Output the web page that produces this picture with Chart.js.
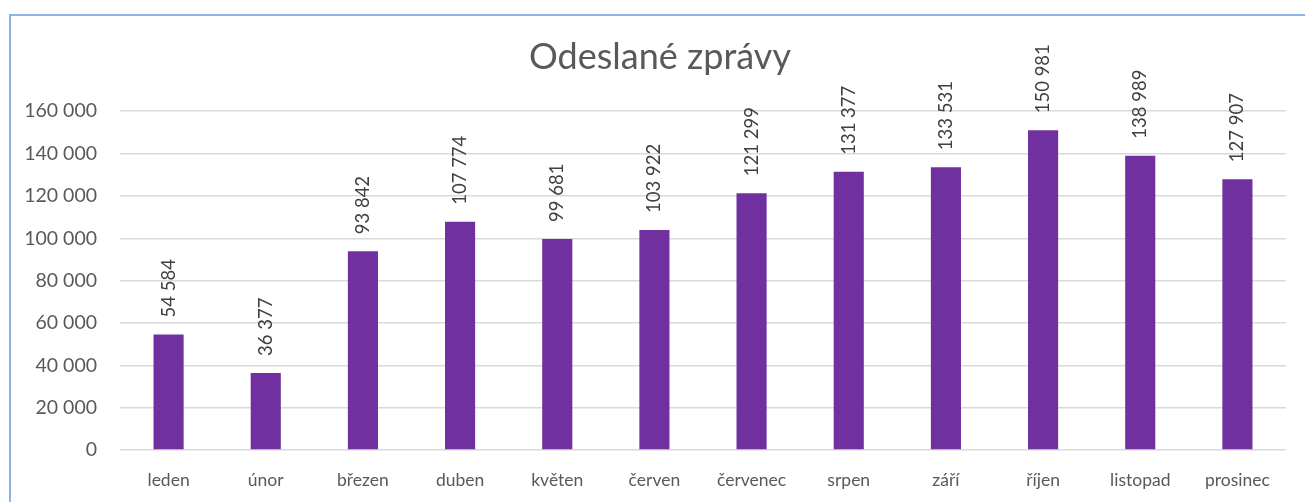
<!DOCTYPE html>
<html>
<head>
<meta charset="utf-8">
<script src="https://cdn.jsdelivr.net/npm/chart.js@4"></script>
<style>
  html, body { margin: 0; padding: 0; background: #fff; overflow: hidden; }
  #wrap { position: absolute; left: 0; top: 0; width: 1305px; height: 502px; }
  #frame { position: absolute; left: 9px; top: 14px; width: 1310px; height: 500px; border: 2px solid #8fb4e3; box-sizing: border-box; }
  canvas { position: absolute; left: 0; top: 0; }
</style>
</head>
<body>
<div id="wrap">
  <div id="frame"></div>
  <canvas id="chart" width="1305" height="502"></canvas>
</div>
<script>
// Chart data
const months = ["leden", "únor", "březen", "duben", "květen", "červen", "červenec", "srpen", "září", "říjen", "listopad", "prosinec"];
const sentMessages = [54584, 36377, 93842, 107774, 99681, 103922, 121299, 131377, 133531, 150981, 138989, 127907];
const yTicks = [0, 20000, 40000, 60000, 80000, 100000, 120000, 140000, 160000];

const FONT = "Lato, 'Open Sans', sans-serif";

// format numbers like "150 981"
function fmt(v) {
    return String(v).replace(/\B(?=(\d{3})+(?!\d))/g, " ");
}

// Draw rotated value labels above each bar
const barLabels = {
    id: "barLabels",
    afterDatasetsDraw(chart) {
        const ctx = chart.ctx;
        const meta = chart.getDatasetMeta(0);
        ctx.save();
        ctx.font = "18.5px " + FONT;
        ctx.fillStyle = "#404040";
        ctx.textAlign = "left";
        ctx.textBaseline = "middle";
        meta.data.forEach((bar, i) => {
            ctx.save();
            ctx.translate(bar.x, bar.y - 17);
            ctx.rotate(-Math.PI / 2);
            ctx.fillText(fmt(chart.data.datasets[0].data[i]), 0, 0);
            ctx.restore();
        });
        ctx.restore();
    }
};

// nudge the title a bit right, like in the original
const titleShift = {
    id: "titleShift",
    afterLayout(chart) {
        if (chart.titleBlock) {
            chart.titleBlock.left += 8;
            chart.titleBlock.right += 8;
        }
    }
};

const ctx = document.getElementById("chart").getContext("2d");
new Chart(ctx, {
    type: "bar",
    data: {
        labels: months,
        datasets: [{
            label: "Odeslané zprávy",
            data: sentMessages,
            backgroundColor: "#7030a0",
            borderWidth: 0,
            barPercentage: 0.31,
            categoryPercentage: 1
        }]
    },
    options: {
        responsive: false,
        animation: false,
        layout: {
            padding: { left: 18, right: 19, top: 0, bottom: 13 }
        },
        scales: {
            x: {
                afterFit(scale) { scale.height = 39; },
                grid: { display: false, drawTicks: false },
                border: { display: false },
                ticks: {
                    color: "#595959",
                    font: { family: FONT, size: 17.5 },
                    padding: 20,
                    maxRotation: 0
                }
            },
            y: {
                min: 0,
                max: 160000,
                afterFit(scale) { scale.width = 102; },
                afterBuildTicks(scale) { scale.ticks = yTicks.map(v => ({ value: v })); },
                grid: { color: "#d9d9d9", lineWidth: 1.5, drawTicks: false },
                border: { display: false },
                ticks: {
                    color: "#595959",
                    font: { family: FONT, size: 19.5 },
                    padding: 23,
                    callback: v => fmt(v)
                }
            }
        },
        plugins: {
            legend: { display: false },
            tooltip: { enabled: false },
            title: {
                display: true,
                text: "Odeslané zprávy",
                color: "#595959",
                font: { family: FONT, size: 36, weight: "normal" },
                padding: { top: 36, bottom: 32 }
            }
        }
    },
    plugins: [barLabels, titleShift]
});
</script>
</body>
</html>
